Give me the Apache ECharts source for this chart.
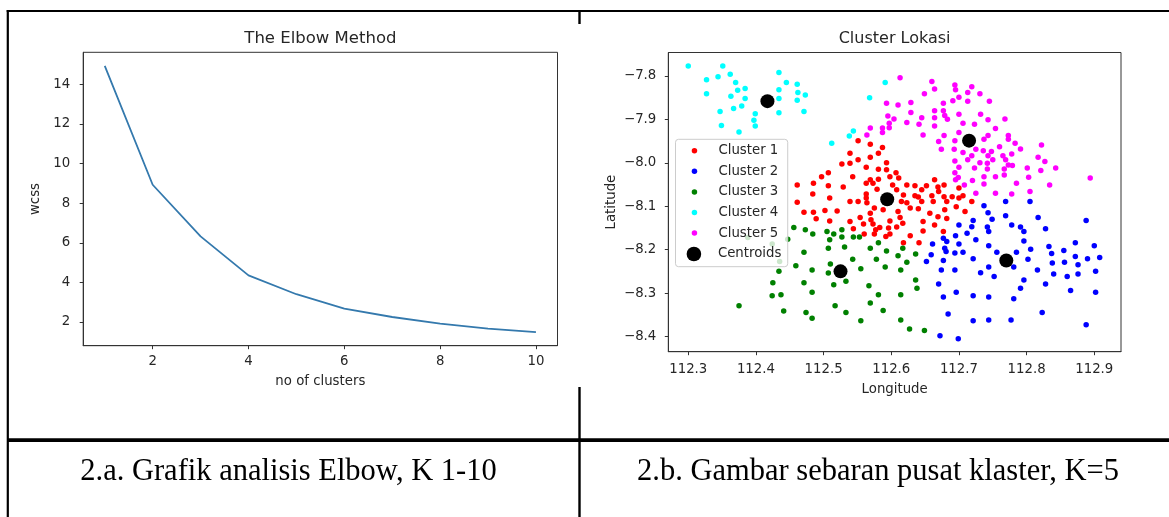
<!DOCTYPE html>
<html>

<head>
    <title>Elbow Method and Cluster Lokasi</title>
    <meta charset="utf-8">
    <script src="https://cdn.jsdelivr.net/npm/echarts@6/dist/echarts.min.js"></script>
    <style>
        body { margin: 0; background: #fff; }
    </style>
</head>

<body>
    <div id="figure" style="width: 1169px;height:517px;"></div>
    <script>
        // elbow curve
        var kValues = [1, 2, 3, 4, 5, 6, 7, 8, 9, 10];
        var wcss = [14.93, 8.93, 6.32, 4.35, 3.40, 2.67, 2.25, 1.92, 1.66, 1.49];
        var elbowXTicks = [2, 4, 6, 8, 10];
        var elbowYTicks = [2, 4, 6, 8, 10, 12, 14];

        // cluster scatter: [longitude, latitude]
        var cluster1 = [
            [112.551, -7.949], [112.569, -7.957], [112.587, -7.965], [112.539, -7.978], [112.581, -7.978], [112.569, -7.987],
            [112.551, -7.993], [112.539, -8.001], [112.527, -8.003], [112.593, -8.000], [112.563, -8.010], [112.581, -8.015],
            [112.593, -8.016], [112.607, -8.023], [112.507, -8.023], [112.497, -8.032], [112.543, -8.032], [112.598, -8.032],
            [112.611, -8.035], [112.581, -8.038], [112.569, -8.039], [112.461, -8.051], [112.485, -8.047], [112.507, -8.053],
            [112.529, -8.056], [112.563, -8.047], [112.573, -8.047], [112.602, -8.051], [112.623, -8.051], [112.635, -8.053],
            [112.652, -8.053], [112.484, -8.072], [112.509, -8.081], [112.563, -8.072], [112.563, -8.081], [112.579, -8.061],
            [112.608, -8.062], [112.618, -8.074], [112.635, -8.076], [112.645, -8.062], [112.640, -8.079], [112.645, -8.089],
            [112.539, -8.089], [112.551, -8.089], [112.564, -8.092], [112.615, -8.089], [112.623, -8.092],
            [112.664, -8.039], [112.669, -8.056], [112.678, -8.051], [112.670, -8.066], [112.700, -8.058], [112.660, -8.076],
            [112.678, -8.078], [112.690, -8.078], [112.706, -8.076], [112.719, -8.089], [112.682, -8.089],
            [112.461, -8.091], [112.471, -8.114],
            [112.575, -8.104], [112.569, -8.116], [112.554, -8.126], [112.559, -8.141], [112.544, -8.152], [112.539, -8.135],
            [112.570, -8.131], [112.573, -8.141], [112.583, -8.149], [112.577, -8.154], [112.596, -8.150], [112.598, -8.134],
            [112.610, -8.112], [112.613, -8.126], [112.608, -8.148], [112.617, -8.139], [112.588, -8.108], [112.598, -8.164],
            [112.592, -8.170], [112.575, -8.164], [112.560, -8.164], [112.618, -8.184], [112.628, -8.168], [112.641, -8.184],
            [112.647, -8.157], [112.628, -8.104], [112.640, -8.106], [112.662, -8.089], [112.657, -8.116], [112.647, -8.135],
            [112.664, -8.143], [112.677, -8.158], [112.669, -8.124], [112.679, -8.108], [112.682, -8.128], [112.485, -8.114],
            [112.489, -8.129], [112.502, -8.110], [112.520, -8.111], [112.509, -8.134], [112.696, -8.101], [112.700, -8.081],
            [112.709, -8.112]
        ];
        var cluster2 = [
            [112.700, -8.143], [112.695, -8.168], [112.700, -8.187], [112.677, -8.174], [112.682, -8.181], [112.679, -8.197],
            [112.681, -8.204], [112.661, -8.187], [112.659, -8.212], [112.652, -8.227], [112.694, -8.208], [112.677, -8.225],
            [112.674, -8.247], [112.694, -8.247], [112.670, -8.279], [112.696, -8.298], [112.677, -8.309], [112.684, -8.348],
            [112.672, -8.398], [112.699, -8.405],
            [112.769, -8.089], [112.805, -8.089], [112.737, -8.099], [112.743, -8.115], [112.749, -8.130], [112.721, -8.133],
            [112.719, -8.147], [112.742, -8.148], [112.744, -8.158], [112.712, -8.162], [112.769, -8.122], [112.778, -8.143],
            [112.791, -8.148], [112.796, -8.158], [112.817, -8.126], [112.828, -8.152], [112.888, -8.133], [112.725, -8.177],
            [112.744, -8.191], [112.796, -8.180], [112.806, -8.199], [112.833, -8.193], [112.837, -8.209], [112.855, -8.202],
            [112.872, -8.184], [112.900, -8.191], [112.706, -8.206], [112.756, -8.206], [112.785, -8.206], [112.721, -8.221],
            [112.802, -8.222], [112.838, -8.231], [112.856, -8.229], [112.872, -8.216], [112.890, -8.221], [112.908, -8.218],
            [112.876, -8.235], [112.744, -8.240], [112.781, -8.240], [112.732, -8.253], [112.752, -8.262], [112.816, -8.247],
            [112.840, -8.256], [112.860, -8.262], [112.876, -8.256], [112.902, -8.250], [112.796, -8.270], [112.828, -8.279],
            [112.791, -8.289], [112.865, -8.294], [112.902, -8.298], [112.721, -8.306], [112.744, -8.309], [112.781, -8.313],
            [112.823, -8.345], [112.721, -8.364], [112.744, -8.362], [112.777, -8.362], [112.888, -8.373]
        ];
        var cluster3 = [
            [112.456, -8.149], [112.473, -8.154], [112.484, -8.164], [112.447, -8.176], [112.424, -8.187], [112.388, -8.172],
            [112.435, -8.227], [112.471, -8.206], [112.459, -8.237], [112.483, -8.247], [112.434, -8.250], [112.425, -8.276],
            [112.471, -8.276], [112.483, -8.298], [112.424, -8.306], [112.437, -8.304], [112.375, -8.329], [112.441, -8.341],
            [112.474, -8.345], [112.483, -8.358],
            [112.505, -8.158], [112.515, -8.164], [112.527, -8.154], [112.527, -8.171], [112.509, -8.177], [112.544, -8.171],
            [112.553, -8.171], [112.507, -8.197], [112.531, -8.194], [112.569, -8.197], [112.581, -8.184], [112.593, -8.203],
            [112.617, -8.197], [112.610, -8.214], [112.636, -8.210], [112.543, -8.222], [112.578, -8.222], [112.623, -8.229],
            [112.510, -8.233], [112.507, -8.254], [112.555, -8.244], [112.591, -8.240], [112.614, -8.247], [112.533, -8.273],
            [112.515, -8.281], [112.567, -8.283], [112.636, -8.270], [112.638, -8.289], [112.581, -8.304], [112.614, -8.304],
            [112.569, -8.323], [112.517, -8.329], [112.588, -8.340], [112.533, -8.345], [112.555, -8.364], [112.614, -8.362],
            [112.627, -8.383], [112.649, -8.386]
        ];
        var cluster4 = [
            [112.300, -7.777], [112.327, -7.809], [112.344, -7.802], [112.351, -7.777], [112.362, -7.796], [112.370, -7.815],
            [112.373, -7.833], [112.384, -7.829], [112.327, -7.841], [112.363, -7.847], [112.384, -7.852], [112.347, -7.882],
            [112.367, -7.875], [112.379, -7.869], [112.349, -7.914], [112.399, -7.887], [112.397, -7.902], [112.399, -7.915],
            [112.375, -7.929], [112.434, -7.792], [112.445, -7.815], [112.461, -7.819], [112.434, -7.832], [112.462, -7.838],
            [112.473, -7.844], [112.434, -7.852], [112.461, -7.856], [112.471, -7.882], [112.434, -7.885], [112.591, -7.815],
            [112.568, -7.850], [112.544, -7.927], [112.538, -7.938], [112.512, -7.955]
        ];
        var cluster5 = [
            [112.613, -7.804], [112.649, -7.841], [112.593, -7.863], [112.610, -7.867], [112.629, -7.861], [112.629, -7.884],
            [112.595, -7.892], [112.604, -7.899], [112.645, -7.896], [112.597, -7.909], [112.597, -7.919], [112.623, -7.907],
            [112.641, -7.911], [112.587, -7.920], [112.587, -7.930], [112.569, -7.920], [112.564, -7.936], [112.647, -7.936],
            [112.660, -7.813], [112.664, -7.830], [112.694, -7.821], [112.695, -7.832], [112.719, -7.825], [112.713, -7.838],
            [112.731, -7.841], [112.700, -7.849], [112.691, -7.857], [112.713, -7.858], [112.745, -7.858], [112.677, -7.863],
            [112.664, -7.880], [112.677, -7.880], [112.679, -7.891], [112.664, -7.896], [112.683, -7.900], [112.700, -7.888],
            [112.732, -7.888], [112.743, -7.901], [112.768, -7.899], [112.706, -7.909], [112.723, -7.911], [112.664, -7.915],
            [112.754, -7.921], [112.700, -7.930], [112.678, -7.937], [112.743, -7.937], [112.773, -7.937], [112.773, -7.946],
            [112.670, -7.951], [112.694, -7.949], [112.737, -7.946], [112.783, -7.955], [112.822, -7.959], [112.791, -7.968],
            [112.760, -7.963], [112.674, -7.969], [112.693, -7.969], [112.725, -7.969], [112.706, -7.976], [112.736, -7.972],
            [112.743, -7.984], [112.748, -7.974], [112.778, -7.980], [112.765, -7.984], [112.719, -7.984], [112.817, -7.987],
            [112.713, -7.993], [112.694, -7.996], [112.731, -8.000], [112.742, -8.001], [112.750, -7.993], [112.769, -7.993],
            [112.773, -8.005], [112.827, -7.997], [112.700, -8.010], [112.723, -8.012], [112.742, -8.014], [112.767, -8.014],
            [112.779, -8.006], [112.801, -8.012], [112.821, -8.018], [112.843, -8.012], [112.694, -8.023], [112.754, -8.032],
            [112.767, -8.028], [112.737, -8.032], [112.699, -8.034], [112.720, -8.041], [112.803, -8.033], [112.695, -8.039],
            [112.737, -8.049], [112.785, -8.047], [112.708, -8.051], [112.834, -8.051], [112.725, -8.070], [112.754, -8.070],
            [112.778, -8.072], [112.805, -8.066], [112.894, -8.035]
        ];
        var centroids = [[112.594, -8.084], [112.770, -8.225], [112.525, -8.250], [112.417, -7.858], [112.715, -7.949]];

        var clusterNames = ['Cluster 1', 'Cluster 2', 'Cluster 3', 'Cluster 4', 'Cluster 5'];
        var clusterColors = ['#ff0000', '#0000ff', '#008000', '#00ffff', '#ff00ff'];
        var lonTicks = [112.3, 112.4, 112.5, 112.6, 112.7, 112.8, 112.9];
        var latTicks = [-7.8, -7.9, -8.0, -8.1, -8.2, -8.3, -8.4];

        var font = 'DejaVu Sans';
        var textColor = '#262626';
        var frameColor = '#333333';

        function axisBase(ticks, labelFormatter, margin) {
            return {
                type: 'value',
                splitLine: { show: false },
                axisLine: { show: true, onZero: false, lineStyle: { color: frameColor, width: 1 } },
                axisTick: { show: true, length: 3.5, customValues: ticks, lineStyle: { color: frameColor } },
                axisLabel: {
                    customValues: ticks, margin: margin, fontFamily: font, fontSize: 13.3, color: textColor,
                    formatter: labelFormatter
                },
                nameLocation: 'middle',
                nameTextStyle: { fontFamily: font, fontSize: 13.3, color: textColor }
            };
        }

        var chart = echarts.init(document.getElementById('figure'), null, { renderer: 'canvas' });
        var clusters = [cluster1, cluster2, cluster3, cluster4, cluster5];
        var legendText = { fontFamily: font, fontSize: 13.3, color: textColor, lineHeight: 14 };

        var option = {
            backgroundColor: '#ffffff',
            animation: false,
            grid: [
                { left: 83.2, top: 52.3, width: 474.3, height: 293.4, show: true, borderColor: frameColor, borderWidth: 1, outerBoundsMode: 'none' },
                { left: 668.3, top: 52.5, width: 452.7, height: 299.2, show: true, borderColor: frameColor, borderWidth: 1, outerBoundsMode: 'none' }
            ],
            xAxis: [
                Object.assign(axisBase(elbowXTicks, function (v) { return String(v); }, 9), {
                    gridIndex: 0, min: 0.55, max: 10.45, name: 'no of clusters', nameGap: 29
                }),
                Object.assign(axisBase(lonTicks, function (v) { return v.toFixed(1); }, 11), {
                    gridIndex: 1, min: 112.2705, max: 112.9395, name: 'Longitude', nameGap: 31
                })
            ],
            yAxis: [
                Object.assign(axisBase(elbowYTicks, function (v) { return String(v); }, 13), {
                    gridIndex: 0, min: 0.80, max: 15.62, name: 'wcss', nameGap: 41
                }),
                Object.assign(axisBase(latTicks, function (v) { return '\u2212' + Math.abs(v).toFixed(1); }, 12), {
                    gridIndex: 1, min: -8.435, max: -7.746, name: 'Latitude', nameGap: 50
                })
            ],
            legend: [
                {
                    data: clusterNames, orient: 'vertical', left: 675.5, top: 139.3,
                    padding: [4.4, 9.4, 26.6, 16.2], itemWidth: 38, itemHeight: 5.5, itemGap: 6.6, icon: 'circle',
                    backgroundColor: 'rgba(255,255,255,0.8)', borderColor: '#cccccc', borderWidth: 1, borderRadius: 3,
                    selectedMode: false, textStyle: legendText
                },
                {
                    data: ['Centroids'], orient: 'vertical', left: 686.6, top: 246.7, padding: 0,
                    itemWidth: 38, itemHeight: 14.6, icon: 'circle', selectedMode: false, z: 6,
                    textStyle: legendText
                }
            ],
            series: [
                {
                    name: 'wcss', type: 'line', xAxisIndex: 0, yAxisIndex: 0, showSymbol: false, symbol: 'none',
                    data: kValues.map(function (k, i) { return [k, wcss[i]]; }),
                    lineStyle: { color: '#3479ad', width: 1.8 }
                }
            ].concat(clusters.map(function (pts, i) {
                return {
                    name: clusterNames[i], type: 'scatter', xAxisIndex: 1, yAxisIndex: 1,
                    symbol: 'circle', symbolSize: 5.5, data: pts,
                    itemStyle: { color: clusterColors[i], opacity: 1 }
                };
            })).concat([
                {
                    name: 'Centroids', type: 'scatter', xAxisIndex: 1, yAxisIndex: 1,
                    symbol: 'circle', symbolSize: 14, data: centroids, z: 3,
                    itemStyle: { color: '#000000', opacity: 1 }
                }
            ]),
            graphic: [
                // table rules
                { type: 'line', shape: { x1: 6.7, y1: 11, x2: 1169, y2: 11 }, style: { stroke: '#000', lineWidth: 2 } },
                { type: 'line', shape: { x1: 7.8, y1: 10, x2: 7.8, y2: 517 }, style: { stroke: '#000', lineWidth: 2.2 } },
                { type: 'line', shape: { x1: 579.5, y1: 10, x2: 579.5, y2: 24 }, style: { stroke: '#000', lineWidth: 2.4 } },
                { type: 'line', shape: { x1: 579.5, y1: 387, x2: 579.5, y2: 517 }, style: { stroke: '#000', lineWidth: 2.4 } },
                { type: 'line', shape: { x1: 7, y1: 440.2, x2: 1169, y2: 440.2 }, style: { stroke: '#000', lineWidth: 3.7 } },
                // chart titles
                {
                    type: 'text', x: 320.4, y: 39,
                    style: { text: 'The Elbow Method', font: '16.5px "DejaVu Sans"', fill: textColor, textAlign: 'center', textVerticalAlign: 'middle' }
                },
                {
                    type: 'text', x: 894.6, y: 39,
                    style: { text: 'Cluster Lokasi', font: '16px "DejaVu Sans"', fill: textColor, textAlign: 'center', textVerticalAlign: 'middle' }
                },
                // captions
                {
                    type: 'text', x: 288.5, y: 471.7,
                    style: { text: '2.a. Grafik analisis Elbow, K 1-10', font: '30.5px "Liberation Serif"', fill: '#000', textAlign: 'center', textVerticalAlign: 'middle' }
                },
                {
                    type: 'text', x: 878, y: 471.7,
                    style: { text: '2.b. Gambar sebaran pusat klaster, K=5', font: '30.5px "Liberation Serif"', fill: '#000', textAlign: 'center', textVerticalAlign: 'middle' }
                }
            ]
        };
        chart.setOption(option);
    </script>
</body>

</html>
